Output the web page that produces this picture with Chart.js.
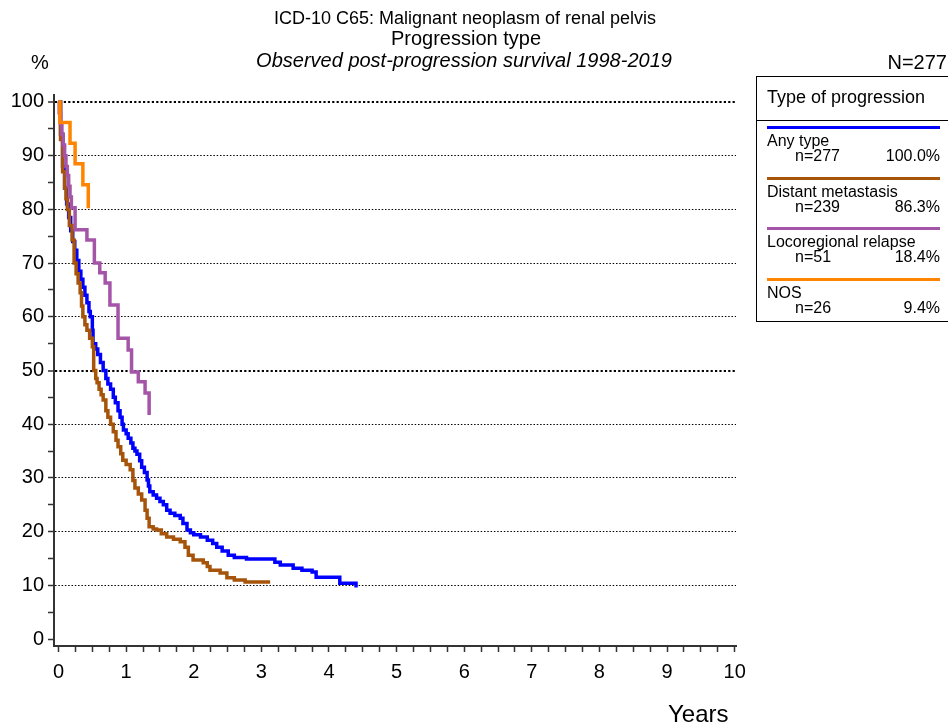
<!DOCTYPE html>
<html>
<head>
<meta charset="utf-8">
<script src="https://cdn.jsdelivr.net/npm/chart.js@4"></script>
<style>
  body { margin: 0; background: #fff; font-family: Arial, "Liberation Sans", sans-serif; }
  #wrap { position: relative; width: 948px; height: 726px; }
  .t { position: absolute; white-space: nowrap; color: #000; line-height: 1; }
  #legend { position: absolute; left: 756px; top: 76px; width: 192px; height: 246px;
            border: 1px solid #000; border-right: none; box-sizing: border-box; }
  #legend .hd { position: absolute; left: 0; top: 0; width: 100%; height: 43px; border-bottom: 1px solid #000; }
  .ln { position: absolute; left: 10px; width: 173px; height: 3px; }
</style>
</head>
<body>
<div id="wrap">
  <canvas id="km" width="948" height="726"></canvas>

  <div class="t" style="left:0;width:930px;text-align:center;top:9px;font-size:18px;">ICD-10 C65: Malignant neoplasm of renal pelvis</div>
  <div class="t" style="left:0;width:932px;text-align:center;top:28px;font-size:20px;">Progression type</div>
  <div class="t" style="left:0;width:928px;text-align:center;top:50px;font-size:20px;font-style:italic;">Observed post-progression survival 1998-2019</div>
  <div class="t" style="left:31px;top:52px;font-size:20px;">%</div>
  <div class="t" style="right:1px;top:52px;font-size:20px;">N=277</div>
  <div class="t" style="left:668px;top:702px;font-size:24px;">Years</div>

  <div id="legend">
    <div class="hd"><div class="t" style="left:10px;top:11px;font-size:18px;">Type of progression</div></div>
  </div>
</div>

<script>
// legend rows
const groupNames = ['Any type', 'Distant metastasis', 'Locoregional relapse', 'NOS'];
const groupN = [277, 239, 51, 26];
const groupPct = ['100.0%', '86.3%', '18.4%', '9.4%'];
const groupColors = ['#0000FF', '#A5540A', '#A555A8', '#FF8400'];

// Kaplan-Meier curves: time (years) / survival (%)
const anyTime = [0, 0.03, 0.06, 0.09, 0.12, 0.15, 0.18, 0.21, 0.24, 0.27, 0.30, 0.33, 0.36, 0.39, 0.42, 0.45, 0.47, 0.50, 0.51, 0.55, 0.58, 0.62, 0.66, 0.70, 0.73, 0.77, 0.81, 0.84, 0.88, 0.91, 0.94, 0.96, 1.00, 1.03, 1.07, 1.10, 1.13, 1.16, 1.20, 1.23, 1.27, 1.31, 1.33, 1.35, 1.40, 1.45, 1.50, 1.55, 1.60, 1.65, 1.72, 1.80, 1.84, 1.90, 1.95, 2.00, 2.10, 2.20, 2.28, 2.34, 2.42, 2.51, 2.60, 2.78, 3.20, 3.28, 3.47, 3.60, 3.75, 3.81, 4.16, 4.39, 4.40];
const anySurv = [100, 94, 88, 84, 81, 78.5, 76, 74, 72.4, 70.5, 68.5, 67, 65.5, 64, 62.6, 61, 60, 57.5, 55, 54, 53, 51.5, 50, 48.5, 47.5, 46.5, 45, 44, 42.5, 41.3, 40, 38.9, 38.2, 37.4, 36.5, 35.5, 35, 34.4, 33.2, 32, 31, 29.6, 28.5, 27.4, 26.8, 26.2, 25.6, 25, 24, 23.4, 23, 22.5, 21.5, 20.3, 19.8, 19.4, 19, 18.4, 17.8, 17.1, 16.4, 15.6, 15.2, 14.9, 14.3, 13.8, 13.2, 12.8, 12.5, 11.5, 10.4, 10.4, 9.6];

const distTime = [0, 0.03, 0.06, 0.09, 0.11, 0.13, 0.16, 0.20, 0.23, 0.26, 0.29, 0.32, 0.34, 0.36, 0.39, 0.42, 0.46, 0.50, 0.52, 0.55, 0.57, 0.60, 0.63, 0.66, 0.70, 0.73, 0.77, 0.81, 0.85, 0.88, 0.92, 0.95, 1.00, 1.06, 1.10, 1.13, 1.18, 1.23, 1.28, 1.31, 1.34, 1.40, 1.45, 1.52, 1.60, 1.70, 1.80, 1.87, 1.92, 1.99, 2.14, 2.20, 2.24, 2.39, 2.49, 2.60, 2.76, 3.13];
const distSurv = [100, 93, 87, 84, 82, 80, 77, 74.3, 70, 68, 66.3, 64.5, 62, 60, 58.5, 57.5, 56, 54.4, 50, 48.5, 47.7, 46.5, 45.5, 44.5, 42.5, 41.3, 40, 38.6, 37, 35.8, 34.5, 33.3, 32.5, 31.5, 29.5, 28.1, 27, 25.9, 24, 22.5, 20.9, 20.5, 20.3, 19.6, 19, 18.6, 18.1, 17.1, 15.6, 14.7, 14.2, 13.5, 12.8, 12.3, 11.4, 11.0, 10.6, 10.6];

const locoTime = [0, 0.01, 0.03, 0.05, 0.07, 0.09, 0.11, 0.13, 0.15, 0.17, 0.19, 0.245, 0.42, 0.53, 0.61, 0.69, 0.76, 0.88, 1.03, 1.08, 1.18, 1.28, 1.34];
const locoSurv = [100, 98, 96, 94, 92, 90, 88, 86.3, 84.3, 82.3, 80.3, 76.2, 74.3, 70, 68.2, 66.3, 62.2, 56, 53.8, 49.7, 47.9, 45.8, 41.7];

const nosTime = [0, 0.02, 0.17, 0.245, 0.36, 0.44];
const nosSurv = [100, 96.2, 92.3, 88.5, 84.6, 80.2];

// axis ticks
const yTicks = [0, 5, 10, 15, 20, 25, 30, 35, 40, 45, 50, 55, 60, 65, 70, 75, 80, 85, 90, 95, 100];
const xTicks = [];
for (let v = 0; v <= 10; v += 0.25) xTicks.push(v);

function pairs(t, s) {
    return t.map(function (x, i) { return {x: x, y: s[i]}; });
}

// build the legend box rows
let legend = document.getElementById('legend');
for (let i = 0; i < groupNames.length; i++) {
    let top = 49 + i * 50.5;
    let row = document.createElement('div');
    row.innerHTML =
        '<div class="ln" style="top:' + top + 'px;background:' + groupColors[i] + '"></div>' +
        '<div class="t" style="left:10px;top:' + (top + 7) + 'px;font-size:16px;">' + groupNames[i] + '</div>' +
        '<div class="t" style="left:38px;top:' + (top + 22) + 'px;font-size:16px;">n=' + groupN[i] + '</div>' +
        '<div class="t" style="right:8px;top:' + (top + 22) + 'px;font-size:16px;">' + groupPct[i] + '</div>';
    legend.appendChild(row);
}

let allTimes = [anyTime, distTime, locoTime, nosTime];
let allSurv = [anySurv, distSurv, locoSurv, nosSurv];
let datasets = [];
for (let i = 0; i < groupNames.length; i++) {
    datasets.push({
        label: groupNames[i],
        data: pairs(allTimes[i], allSurv[i]),
        borderColor: groupColors[i],
        backgroundColor: groupColors[i],
        borderWidth: 3.5,
        pointRadius: 0,
        stepped: true,
        fill: false,
        order: 4 - i
    });
}

Chart.defaults.font.family = 'Arial, "Liberation Sans", sans-serif';
Chart.defaults.color = '#000';

new Chart(document.getElementById('km'), {
    type: 'line',
    data: { datasets: datasets },
    options: {
        responsive: false,
        animation: false,
        devicePixelRatio: 1,
        layout: { padding: { left: 0, top: 95, right: 212, bottom: 0 } },
        plugins: { legend: { display: false }, tooltip: { enabled: false }, title: { display: false } },
        scales: {
            x: {
                type: 'linear',
                min: -0.067,
                max: 10.02,
                afterBuildTicks: function (scale) { scale.ticks = xTicks.map(function (v) { return {value: v}; }); },
                afterFit: function (scale) { scale.height = 80; },
                ticks: {
                    autoSkip: false,
                    maxRotation: 0,
                    padding: 8,
                    font: { size: 20 },
                    callback: function (v) { return Number.isInteger(v) ? v : ''; }
                },
                grid: { drawOnChartArea: false, tickLength: 6, tickColor: '#333', tickWidth: 1.5 },
                border: { color: '#333', width: 2 }
            },
            y: {
                min: -1.3,
                max: 101.3,
                afterBuildTicks: function (scale) { scale.ticks = yTicks.map(function (v) { return {value: v}; }); },
                afterFit: function (scale) { scale.width = 54; },
                ticks: {
                    autoSkip: false,
                    padding: 4,
                    font: { size: 20 },
                    callback: function (v) { return v % 10 === 0 ? v : ''; }
                },
                grid: {
                    tickLength: 6,
                    tickColor: '#333',
                    tickWidth: 1.5,
                    color: function (ctx) {
                        let v = ctx.tick ? ctx.tick.value : 0;
                        return (v > 0 && v % 10 === 0) ? '#000' : 'rgba(0,0,0,0)';
                    },
                    lineWidth: function (ctx) {
                        let v = ctx.tick ? ctx.tick.value : 0;
                        return (v === 50 || v === 100) ? 2 : 1;
                    }
                },
                border: {
                    color: '#333',
                    width: 2,
                    dash: function (ctx) {
                        let v = ctx.tick ? ctx.tick.value : 0;
                        return (v === 50 || v === 100) ? [2.2, 2.2] : [1.5, 1.8];
                    }
                }
            }
        }
    }
});
</script>
</body>
</html>
